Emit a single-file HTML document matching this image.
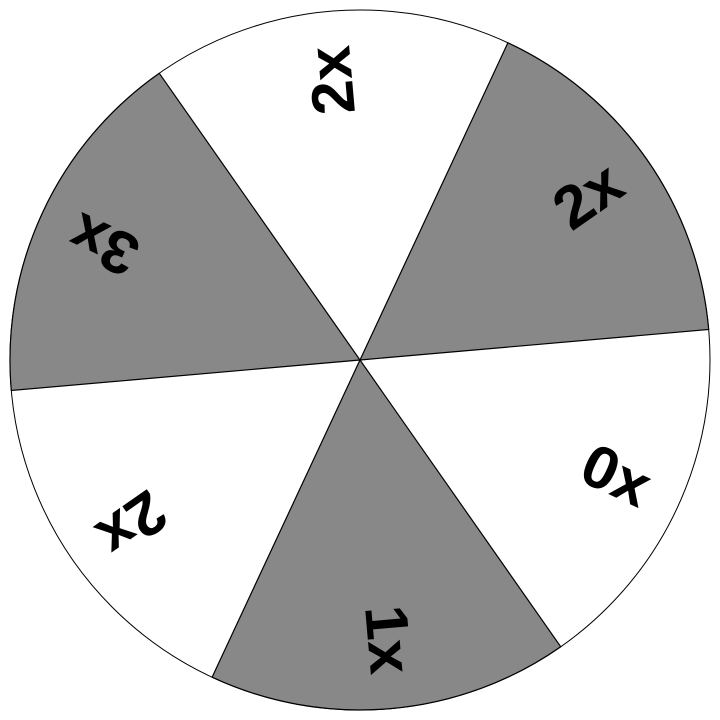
<!DOCTYPE html>
<html>
<head>
<meta charset="utf-8">
<style>
html,body{margin:0;padding:0;background:#fff;width:720px;height:720px;overflow:hidden}
svg{display:block}
text{font-family:"Liberation Sans",sans-serif;font-weight:bold;font-size:60px;fill:#000;text-anchor:middle}
</style>
</head>
<body>
<svg width="720" height="720" viewBox="0 0 720 720" xmlns="http://www.w3.org/2000/svg">
<circle cx="360" cy="360" r="350" fill="#fff" stroke="#000" stroke-width="1"/>
<g stroke="#000" stroke-width="1.2" fill="#888888">
<path d="M360 360 L507.9 42.8 A350 350 0 0 1 708.7 329.5 Z"/>
<path d="M360 360 L560.7 646.7 A350 350 0 0 1 212.1 677.2 Z"/>
<path d="M360 360 L11.3 390.5 A350 350 0 0 1 159.3 73.3 Z"/>
</g>
<g transform="translate(360 360)">
<g transform="rotate(-5)"><text transform="translate(0 -281) rotate(-90) scale(1.03 1)" y="16.5">2x</text></g>
<g transform="rotate(55)"><text transform="translate(0 -281) rotate(-90) scale(1.03 1)" y="16.5">2x</text></g>
<g transform="rotate(115)"><text transform="translate(0 -281) rotate(-90) scale(1.03 1)" y="16.5">0x</text></g>
<g transform="rotate(175)"><text transform="translate(0 -281) rotate(-90) scale(1.03 1)" y="16.5">1x</text></g>
<g transform="rotate(235)"><text transform="translate(0 -281) rotate(-90) scale(1.03 1)" y="16.5">2x</text></g>
<g transform="rotate(295)"><text transform="translate(0 -281) rotate(-90) scale(1.03 1)" y="16.5">3x</text></g>
</g>
</svg>
</body>
</html>
